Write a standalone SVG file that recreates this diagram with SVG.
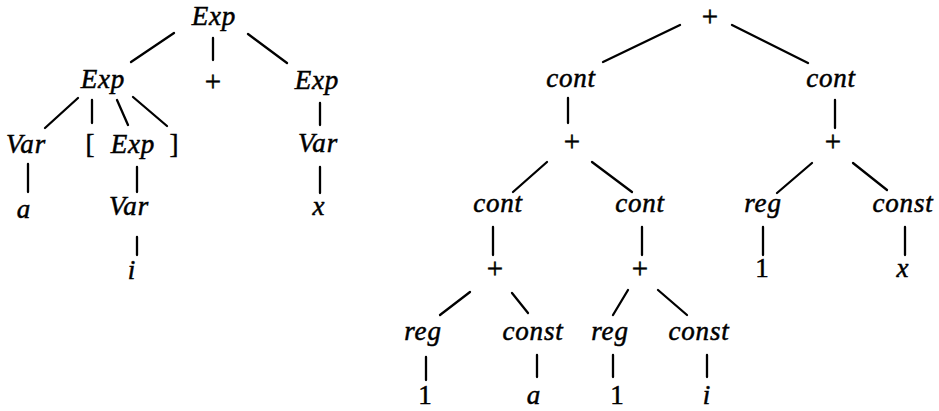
<svg xmlns="http://www.w3.org/2000/svg" width="939" height="411" viewBox="0 0 939 411">
<style>
text{font-family:'Liberation Serif','DejaVu Serif',serif;font-size:27px;fill:#000;stroke:#000;stroke-width:0.5;text-anchor:middle}
.t{font-style:italic;letter-spacing:0.8px}
.p{font-size:29px}
.e line{stroke:#000;stroke-width:2.3;stroke-linecap:round}
</style>
<rect width="939" height="411" fill="#fff"/>
<g id="edges" class="e">
<line x1="174" y1="33" x2="131" y2="62"/>
<line x1="213" y1="38" x2="213" y2="60"/>
<line x1="248" y1="34" x2="287" y2="63"/>
<line x1="78" y1="98" x2="45" y2="128"/>
<line x1="92" y1="100" x2="92" y2="123"/>
<line x1="117" y1="100" x2="128" y2="125"/>
<line x1="133" y1="97" x2="167" y2="126"/>
<line x1="28" y1="164" x2="28" y2="192"/>
<line x1="137" y1="167" x2="137" y2="192"/>
<line x1="320" y1="103" x2="320" y2="125"/>
<line x1="320" y1="167" x2="320" y2="193"/>
<line x1="137" y1="237" x2="137" y2="255"/>
<line x1="680" y1="25" x2="603" y2="62"/>
<line x1="732" y1="25" x2="808" y2="63"/>
<line x1="568" y1="98" x2="568" y2="123"/>
<line x1="835" y1="100" x2="835" y2="128"/>
<line x1="547" y1="162" x2="513" y2="192"/>
<line x1="592" y1="162" x2="632" y2="192"/>
<line x1="812" y1="163" x2="777" y2="193"/>
<line x1="853" y1="163" x2="887" y2="190"/>
<line x1="493" y1="227" x2="493" y2="255"/>
<line x1="642" y1="227" x2="642" y2="255"/>
<line x1="763" y1="227" x2="763" y2="255"/>
<line x1="905" y1="227" x2="905" y2="255"/>
<line x1="470" y1="292" x2="440" y2="315"/>
<line x1="512" y1="293" x2="528" y2="313"/>
<line x1="628" y1="290" x2="613" y2="315"/>
<line x1="658" y1="290" x2="687" y2="315"/>
<line x1="426" y1="357" x2="426" y2="380"/>
<line x1="537" y1="355" x2="537" y2="377"/>
<line x1="613" y1="355" x2="613" y2="377"/>
<line x1="707" y1="355" x2="707" y2="377"/>
</g>
<g id="L_exp_root"><text class="t" x="214" y="25">Exp</text></g>
<g id="L_exp_left"><text class="t" x="103" y="88">Exp</text></g>
<g id="L_plus"><text class="p" x="213" y="91">+</text></g>
<g id="L_exp_right"><text class="t" x="317" y="89">Exp</text></g>
<g id="L_var_a"><text class="t" x="26" y="153">Var</text></g>
<g id="L_lbrack"><text x="90" y="153">[</text></g>
<g id="L_exp_idx"><text class="t" x="133" y="153">Exp</text></g>
<g id="L_rbrack"><text x="174" y="153">]</text></g>
<g id="L_var_x"><text class="t" x="318" y="152">Var</text></g>
<g id="L_a"><text class="t" x="24" y="218">a</text></g>
<g id="L_var_i"><text class="t" x="129" y="215">Var</text></g>
<g id="L_x"><text class="t" x="319" y="215">x</text></g>
<g id="L_i"><text class="t" x="132" y="279">i</text></g>
<g id="R_plus_root"><text class="p" x="710" y="26">+</text></g>
<g id="R_cont_l"><text class="t" x="571" y="87">cont</text></g>
<g id="R_cont_r"><text class="t" x="831" y="87">cont</text></g>
<g id="R_plus_l"><text class="p" x="572" y="151">+</text></g>
<g id="R_plus_r"><text class="p" x="833" y="151">+</text></g>
<g id="R_cont_ll"><text class="t" x="498" y="212">cont</text></g>
<g id="R_cont_lr"><text class="t" x="640" y="212">cont</text></g>
<g id="R_reg_r"><text class="t" x="763" y="212">reg</text></g>
<g id="R_const_x"><text class="t" x="903" y="212">const</text></g>
<g id="R_plus_ll"><text class="p" x="495" y="278">+</text></g>
<g id="R_plus_lr"><text class="p" x="640" y="278">+</text></g>
<g id="R_one_r"><text x="762" y="277">1</text></g>
<g id="R_x"><text class="t" x="903" y="277">x</text></g>
<g id="R_reg_ll"><text class="t" x="423" y="340">reg</text></g>
<g id="R_const_a"><text class="t" x="533" y="340">const</text></g>
<g id="R_reg_lr"><text class="t" x="610" y="340">reg</text></g>
<g id="R_const_i"><text class="t" x="699" y="340">const</text></g>
<g id="R_one_ll"><text x="425" y="404">1</text></g>
<g id="R_a"><text class="t" x="534" y="404">a</text></g>
<g id="R_one_lr"><text x="617" y="404">1</text></g>
<g id="R_i"><text class="t" x="707" y="404">i</text></g>
</svg>
